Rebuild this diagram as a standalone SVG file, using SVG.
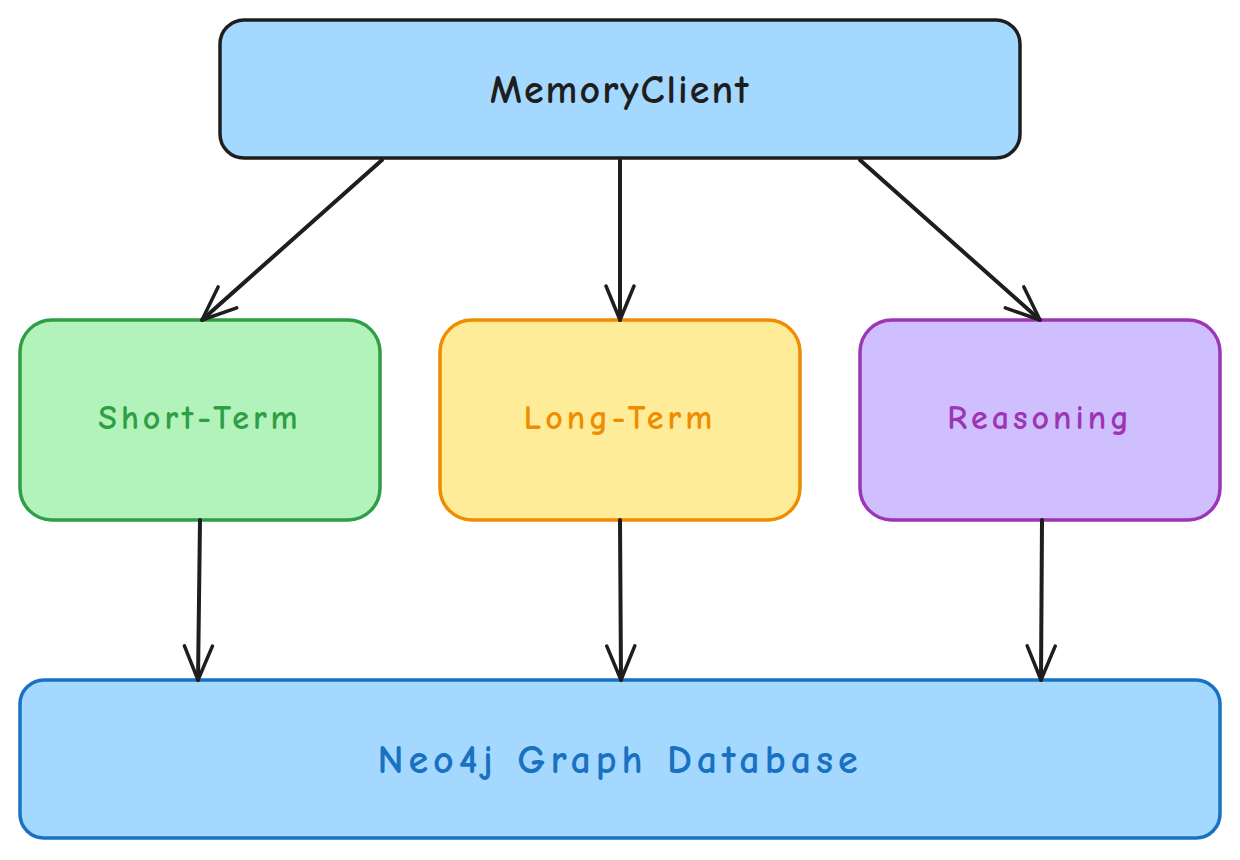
<svg xmlns="http://www.w3.org/2000/svg" width="1240" height="860" viewBox="0 0 1240 860">
<style>
.box{stroke-width:3.5}
.lbl{font-family:"Comic Neue","Liberation Sans",sans-serif;font-weight:bold;text-anchor:middle;dominant-baseline:central}
.conn{stroke:#1e1e1e;stroke-width:4;fill:none;stroke-linecap:round;stroke-linejoin:round}
</style>
<defs>
<marker id="ah" viewBox="0 0 40 40" refX="38" refY="20" markerWidth="40" markerHeight="40" markerUnits="userSpaceOnUse" orient="auto">
<path d="M4,6 L38,20 L4,34" fill="none" stroke="#1e1e1e" stroke-width="3.5" stroke-linecap="round" stroke-linejoin="round"/>
</marker>
</defs>
<rect width="1240" height="860" fill="#ffffff"/>
<g id="memoryclient">
<rect class="box" x="220" y="20" width="800" height="138" rx="24" fill="#a5d8ff" stroke="#1e1e1e"/>
<text class="lbl" x="620" y="90" font-size="40" letter-spacing="2" fill="#1e1e1e">MemoryClient</text>
</g>
<g id="shortterm">
<rect class="box" x="20" y="320" width="360" height="200" rx="32" fill="#b2f2bb" stroke="#2f9e44"/>
<text class="lbl" x="200" y="418" font-size="34" letter-spacing="4" fill="#2f9e44">Short-Term</text>
</g>
<g id="longterm">
<rect class="box" x="440" y="320" width="360" height="200" rx="32" fill="#ffec99" stroke="#f08c00"/>
<text class="lbl" x="620" y="418" font-size="34" letter-spacing="4" fill="#f08c00">Long-Term</text>
</g>
<g id="reasoning">
<rect class="box" x="860" y="320" width="360" height="200" rx="32" fill="#d0bfff" stroke="#9c36b5"/>
<text class="lbl" x="1040" y="418" font-size="34" letter-spacing="4" fill="#9c36b5">Reasoning</text>
</g>
<g id="neo4j">
<rect class="box" x="20" y="680" width="1200" height="158" rx="24" fill="#a5d8ff" stroke="#1971c2"/>
<text class="lbl" x="620" y="760" font-size="40" letter-spacing="5" fill="#1971c2">Neo4j Graph Database</text>
</g>
<g id="connectors">
<path class="conn" d="M382,160 L202,320" marker-end="url(#ah)"/>
<path class="conn" d="M620,160 L620,320" marker-end="url(#ah)"/>
<path class="conn" d="M860,160 L1040,320" marker-end="url(#ah)"/>
<path class="conn" d="M200,520 L198,680" marker-end="url(#ah)"/>
<path class="conn" d="M620,520 L621,680" marker-end="url(#ah)"/>
<path class="conn" d="M1042,520 L1041,680" marker-end="url(#ah)"/>
</g>
</svg>
